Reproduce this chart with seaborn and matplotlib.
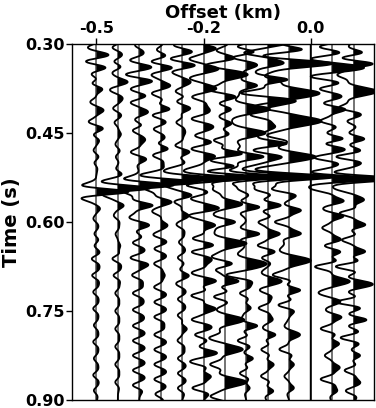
import numpy as np
import matplotlib
matplotlib.use("Agg")
from matplotlib import pyplot as plt
import seaborn as sns

# trace offsets (km)
offsets = [-0.50, -0.45, -0.40, -0.35, -0.30, -0.25, -0.20, -0.15, -0.10, -0.05, 0.00, 0.05, 0.10]
offset_ticks = [-0.5, -0.25, 0.0]
offset_ticklabels = ["-0.5", "-0.2", "0.0"]
time_ticks = [0.30, 0.45, 0.60, 0.75, 0.90]
time_ticklabels = ["0.30", "0.45", "0.60", "0.75", "0.90"]

# picked events per trace: (time s, amplitude in trace spacings[, lobe freq Hz]), + = black lobe
ev_m050 = [(0.305, -0.25), (0.319, 0.4), (0.330, -0.2), (0.339, 0.3), (0.352, -0.15), (0.366, -0.15),
           (0.376, 0.2), (0.397, -0.2), (0.412, 0.25), (0.431, -0.25), (0.443, 0.2), (0.462, 0.12),
           (0.480, -0.12), (0.500, -0.1), (0.549, 1.5), (0.577, 0.15), (0.595, -0.12), (0.620, -0.1),
           (0.640, -0.1), (0.662, -0.22), (0.690, -0.2), (0.718, -0.15), (0.746, -0.15), (0.774, -0.12),
           (0.802, -0.15), (0.830, -0.12), (0.858, -0.15), (0.884, -0.12)]
ev_m045 = [(0.306, -0.25), (0.330, -0.2), (0.347, -0.2), (0.364, 0.35), (0.378, -0.2), (0.392, 0.12),
           (0.409, -0.2), (0.432, -0.15), (0.452, 0.12), (0.470, -0.1), (0.490, -0.1), (0.520, 0.2),
           (0.543, 1.5), (0.572, 0.25), (0.590, -0.15), (0.620, -0.1), (0.640, 0.1), (0.662, -0.25),
           (0.690, -0.2), (0.720, -0.12), (0.750, -0.12), (0.780, -0.12), (0.810, -0.12), (0.840, -0.12),
           (0.870, -0.12)]
ev_m040 = [(0.302, -0.2), (0.327, -0.3), (0.339, 0.3), (0.352, -0.35), (0.362, 0.35), (0.377, -0.3),
           (0.398, -0.35), (0.415, 0.3), (0.430, -0.15), (0.445, -0.3), (0.462, 0.2), (0.482, -0.3),
           (0.495, 0.2), (0.538, 1.6), (0.572, 0.6), (0.592, -0.3), (0.606, 0.35), (0.635, -0.3),
           (0.660, -0.3), (0.672, 0.25), (0.690, -0.3), (0.720, -0.3), (0.748, -0.3), (0.775, -0.3),
           (0.800, -0.3), (0.825, -0.3), (0.850, -0.3), (0.875, -0.3)]
ev_m035 = [(0.310, -0.2), (0.330, -0.35), (0.339, 0.25), (0.352, -0.3), (0.370, 0.3), (0.384, -0.3),
           (0.410, 0.3), (0.420, -0.25), (0.443, -0.3), (0.460, 0.15), (0.476, 0.25), (0.488, -0.25),
           (0.519, -0.3), (0.533, 1.6), (0.566, 0.45), (0.583, -0.3), (0.605, 0.25), (0.622, -0.3),
           (0.645, -0.3), (0.670, -0.3), (0.690, 0.15), (0.710, -0.3), (0.735, -0.3), (0.760, -0.3),
           (0.790, -0.3), (0.815, -0.3), (0.840, -0.3), (0.865, -0.3), (0.890, -0.25)]
ev_m030 = [(0.302, -0.3), (0.313, 0.2), (0.325, -0.3), (0.336, 0.35), (0.347, -0.25), (0.364, 0.3),
           (0.381, -0.3), (0.395, -0.2), (0.409, 0.3), (0.432, -0.25), (0.450, 0.1), (0.471, -0.2),
           (0.482, 0.25), (0.510, -0.35), (0.527, 1.7), (0.555, 0.35), (0.566, -0.2), (0.589, 0.25),
           (0.605, -0.2), (0.634, -0.15), (0.660, -0.2), (0.690, 0.25), (0.705, -0.2), (0.730, -0.2),
           (0.757, -0.2), (0.780, 0.2), (0.800, -0.2), (0.830, -0.2), (0.855, -0.2), (0.880, -0.2)]
ev_m025 = [(0.307, 0.5), (0.325, -0.5), (0.342, 0.5), (0.358, -0.45), (0.375, 0.4), (0.390, -0.4),
           (0.410, 0.15), (0.426, -0.45), (0.440, 0.2), (0.455, -0.35), (0.476, -0.45), (0.490, 0.35),
           (0.510, -0.4), (0.527, 1.8), (0.560, -0.5), (0.577, 0.45), (0.589, -0.4), (0.606, 0.45),
           (0.628, -0.5), (0.650, -0.5), (0.665, 0.2), (0.685, -0.4), (0.700, 0.45), (0.724, -0.55),
           (0.746, 0.5), (0.765, -0.5), (0.790, -0.4), (0.820, 0.5), (0.836, -0.5), (0.860, 0.3),
           (0.880, -0.5)]
ev_m020 = [(0.310, -0.3), (0.325, 0.3), (0.335, -0.3), (0.352, 1.0, 24), (0.377, -0.5), (0.390, 0.3),
           (0.410, 0.3), (0.434, 0.3), (0.462, -0.5), (0.485, 0.8), (0.507, 0.7), (0.524, 1.7),
           (0.545, -0.4), (0.570, 0.8, 26), (0.600, 0.5), (0.636, 1.0, 24), (0.660, -0.4), (0.680, -0.4),
           (0.700, 0.6), (0.726, -0.5), (0.765, 0.9, 22), (0.795, -0.4), (0.815, 0.8, 26), (0.840, -0.5),
           (0.870, 1.0, 22), (0.895, -0.4)]
ev_m015 = [(0.305, -0.5), (0.322, -0.6), (0.337, 0.3), (0.370, 0.5), (0.410, 1.1, 24), (0.450, 0.9, 26),
           (0.490, 0.8), (0.524, 1.7), (0.545, -0.3), (0.575, 0.6), (0.620, 0.6), (0.670, 0.9, 24),
           (0.690, -0.6), (0.720, -0.3), (0.745, 0.2), (0.775, 0.5), (0.800, -0.4), (0.830, 0.3),
           (0.855, -0.3), (0.880, 0.15)]
ev_m010 = [(0.297, 0.9), (0.315, -0.9), (0.333, 0.6), (0.360, 0.9), (0.383, -0.8), (0.397, 1.0, 26),
           (0.420, -0.6), (0.440, 0.3), (0.468, 0.9), (0.490, 0.6), (0.508, -0.5), (0.524, 2.0),
           (0.545, -0.5), (0.572, 0.6), (0.600, -0.4), (0.620, 0.5), (0.640, -0.45), (0.660, -0.3),
           (0.700, 0.65, 26), (0.725, 0.2), (0.745, -0.4), (0.765, 0.2), (0.790, 0.35), (0.815, -0.3),
           (0.840, 0.25), (0.860, -0.3), (0.885, 0.25)]
ev_m005 = [(0.310, 0.8), (0.333, 2.0, 28), (0.355, -0.6), (0.383, 1.4, 22), (0.405, -0.6), (0.430, 1.5, 20),
           (0.455, -0.5), (0.490, 1.2, 24), (0.510, -0.4), (0.524, 2.0), (0.545, -0.7), (0.580, 0.5),
           (0.600, -0.6), (0.620, 0.5), (0.665, 1.0, 22), (0.690, -0.5), (0.715, 0.5), (0.740, -0.5),
           (0.790, 0.5, 26), (0.815, -0.4), (0.840, 0.2), (0.860, -0.2), (0.880, 0.2)]
ev_p000 = []  # dead trace
ev_p005 = [(0.305, -0.6), (0.325, -0.5), (0.340, 1.2, 26), (0.355, -0.5), (0.375, -0.5), (0.390, 0.3),
           (0.410, 0.6), (0.430, -0.5), (0.460, 0.6), (0.476, 0.5), (0.492, -0.7), (0.527, 2.2),
           (0.545, -0.6), (0.565, 0.5), (0.590, 0.5), (0.610, -0.4), (0.630, 0.4), (0.650, 0.4),
           (0.675, -0.7), (0.700, 0.8, 26), (0.720, -0.3), (0.735, 0.3), (0.760, 0.4), (0.780, -0.5),
           (0.805, 0.3), (0.825, -0.3), (0.845, 0.3), (0.865, -0.5), (0.885, 0.2)]
ev_p010 = [(0.315, 0.5), (0.333, 0.9), (0.352, -0.5), (0.380, 1.1, 22), (0.408, -0.5), (0.430, -0.3),
           (0.460, 0.5), (0.490, -0.8), (0.527, 2.0), (0.545, -0.5), (0.563, 0.4), (0.585, -0.6),
           (0.605, 0.5), (0.630, -0.5), (0.650, 0.5), (0.675, -0.8), (0.705, 0.9, 26), (0.735, -0.8),
           (0.765, 0.6), (0.795, -0.6), (0.825, 0.3), (0.850, -0.4), (0.870, 0.2), (0.885, -0.3)]

traces = [ev_m050, ev_m045, ev_m040, ev_m035, ev_m030, ev_m025, ev_m020,
          ev_m015, ev_m010, ev_m005, ev_p000, ev_p005, ev_p010]

FREQ = 35.0       # default ricker peak frequency (Hz)
SPACING = 0.05    # trace spacing (km)


def ricker(t, f):
    a = (np.pi * f * t) ** 2
    return (1 - 2 * a) * np.exp(-a)


def build_trace(t, events):
    s = np.zeros_like(t)
    for ev in events:
        f = ev[2] if len(ev) > 2 else FREQ
        s += ev[1] * ricker(t - ev[0], f)
    return s


sns.set_style("ticks")
plt.rcParams["font.family"] = ["DejaVu Sans"]
plt.rcParams["font.weight"] = "bold"
for key in ["text.color", "axes.labelcolor", "xtick.color", "ytick.color", "axes.edgecolor"]:
    plt.rcParams[key] = "black"

fig = plt.figure(figsize=(3.76, 4.08), dpi=100)
ax = fig.add_axes([0.1915, 0.0196, 0.8035, 0.8726])

t = np.arange(0.28, 0.92, 0.0005)
for off, events in zip(offsets, traces):
    ax.axvline(off, color="0.3", lw=1.1, zorder=1)
    x = off + SPACING * build_trace(t, events)
    ax.fill_betweenx(t, off, x, where=x > off, color="black", lw=0, interpolate=True, zorder=2)
    sns.lineplot(x=x, y=t, sort=False, estimator=None, orient="y", color="black", lw=1.3, ax=ax, zorder=3)

ax.set_xlim(-0.557, 0.148)
ax.set_ylim(0.90, 0.30)

ax.xaxis.tick_top()
ax.xaxis.set_label_position("top")
ax.set_xticks(offset_ticks)
ax.set_xticklabels(offset_ticklabels)
ax.set_yticks(time_ticks)
ax.set_yticklabels(time_ticklabels)
ax.tick_params(axis="both", labelsize=11.5, length=4, width=1, direction="out", colors="black")
ax.tick_params(axis="x", pad=1.5)
ax.tick_params(axis="y", pad=1.5)
for lab in ax.get_xticklabels() + ax.get_yticklabels():
    lab.set_fontweight("bold")
ax.set_xlabel("Offset (km)", fontsize=13, fontweight="bold")
ax.xaxis.set_label_coords(0.5, 1.072)
ax.set_ylabel("Time (s)", fontsize=14, fontweight="bold", labelpad=3)
for sp in ax.spines.values():
    sp.set_visible(True)
    sp.set_color("black")
    sp.set_linewidth(1.0)

fig.savefig("out.png", dpi=100)
plt.close(fig)
